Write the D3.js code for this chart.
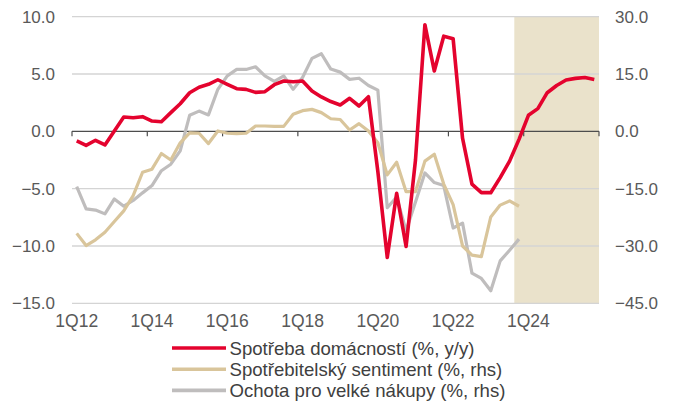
<!DOCTYPE html>
<html><head><meta charset="utf-8">
<script src="https://cdn.jsdelivr.net/npm/d3@7"></script>
<style>
body{margin:0;background:#fff;}
svg{display:block;font-family:"Liberation Sans",Arial,sans-serif;}
</style></head>
<body><svg id="c" width="673" height="401"></svg>
<script>
const years = d3.range(12, 26);
const categories = years.flatMap(y => [1,2,3,4].map(q => q + "Q" + y));
const tickLabels = ["1Q12","1Q14","1Q16","1Q18","1Q20","1Q22","1Q24"];
const shadeStart = "4Q23";
const leftTicks = [-15,-10,-5,0,5,10];
const rightTicks = [-45,-30,-15,0,15,30];

const consumption = [-0.84,-1.22,-0.78,-1.19,0.03,1.25,1.19,1.28,0.9,0.84,1.63,2.41,3.37,3.85,4.1,4.5,4.1,3.72,3.66,3.4,3.46,4.07,4.39,4.33,4.39,3.52,3.0,2.6,2.3,2.88,2.21,3.02,-3.5,-11.0,-5.4,-10.05,-2.5,9.3,5.26,8.3,8.08,-0.6,-4.6,-5.35,-5.35,-4.04,-2.6,-0.7,1.4,1.98,3.37,4.0,4.48,4.62,4.7,4.53];
const sentiment = [-26.7,-29.9,-28.4,-26.4,-23.6,-20.8,-16.8,-10.7,-9.9,-5.8,-7.5,-3.0,-0.4,-0.5,-3.2,0.1,-0.5,-0.6,-0.5,1.4,1.4,1.3,1.3,4.45,5.4,5.75,4.9,3.3,3.1,0.35,2.0,0.1,-3.0,-11.4,-8.1,-15.8,-15.8,-7.8,-6.0,-13.8,-19.2,-30.0,-32.4,-32.8,-22.4,-19.3,-18.2,-19.6];
const purchases = [-14.5,-20.3,-20.6,-21.6,-17.7,-19.6,-18.1,-16.1,-14.2,-10.3,-8.6,-5.1,4.2,5.3,4.3,11.0,14.5,16.2,16.2,16.9,14.5,13.1,14.5,11.0,14.1,19.1,20.3,16.3,15.5,13.6,13.9,12.0,10.8,-20.0,-17.2,-26.0,-18.5,-10.9,-13.4,-14.2,-25.3,-24.0,-37.1,-38.5,-41.7,-33.9,-31.1,-28.2];
const seriesNames = ["Spotřeba domácností (%, y/y)","Spotřebitelský sentiment (%, rhs)","Ochota pro velké nákupy (%, rhs)"];
const colors = ["#E4032E","#D9C59B","#BFBDBD"];

const svg = d3.select("#c");
const L = 72, R = 599, T = 16.7, B = 303.3;
const x = d3.scaleBand().domain(categories).range([L, R]).paddingInner(0).paddingOuter(0);
const yL = d3.scaleLinear().domain([-15, 10]).range([B, T]);
const yR = d3.scaleLinear().domain([-45, 30]).range([B, T]);
const cx = c => x(c) + x.bandwidth() / 2;

// shaded forecast area
svg.append("rect")
  .attr("x", x(shadeStart)).attr("y", T)
  .attr("width", R - x(shadeStart)).attr("height", B - T)
  .attr("fill", "#EAE2CB");

// gridlines
svg.append("g").selectAll("line").data(leftTicks.filter(d => d !== 0)).join("line")
  .attr("x1", L).attr("x2", R).attr("y1", d => yL(d)).attr("y2", d => yL(d))
  .attr("stroke", "#D4D4D4").attr("stroke-width", 1.3);

// left axis labels
const axL = svg.append("g").attr("transform", `translate(${L},0)`)
  .call(d3.axisLeft(yL).tickValues(leftTicks).tickFormat(d3.format(".1f")).tickSize(0).tickPadding(17));
axL.select(".domain").remove();
axL.selectAll("text").attr("font-size", 17).attr("fill", "#595959").attr("font-family", "Liberation Sans, Arial, sans-serif");

// right axis labels
const axR = svg.append("g").attr("transform", `translate(${R},0)`)
  .call(d3.axisRight(yR).tickValues(rightTicks).tickFormat(d3.format(".1f")).tickSize(0).tickPadding(16));
axR.select(".domain").remove();
axR.selectAll("text").attr("font-size", 17).attr("fill", "#595959").attr("font-family", "Liberation Sans, Arial, sans-serif");

// zero line with category-boundary ticks
svg.append("line").attr("x1", L).attr("x2", R).attr("y1", yL(0)).attr("y2", yL(0))
  .attr("stroke", "#4D4D4D").attr("stroke-width", 1.2);
const tickCats = categories.filter((c, i) => i % 8 === 0);
svg.append("g").selectAll("line").data(tickCats.map(c => x(c)).concat([R])).join("line")
  .attr("x1", d => d).attr("x2", d => d).attr("y1", yL(0)).attr("y2", yL(0) + 5)
  .attr("stroke", "#4D4D4D").attr("stroke-width", 1.2);

// x axis labels
const axX = svg.append("g").attr("transform", `translate(0,${B})`)
  .call(d3.axisBottom(x).tickValues(tickLabels).tickSize(0).tickPadding(11));
axX.select(".domain").remove();
axX.selectAll("text").attr("font-size", 17.5).attr("fill", "#595959").attr("font-family", "Liberation Sans, Arial, sans-serif");

// lines
const lineL = d3.line().x((d, i) => cx(categories[i])).y(d => yL(d));
const lineR = d3.line().x((d, i) => cx(categories[i])).y(d => yR(d));
svg.append("path").datum(purchases).attr("d", lineR).attr("fill", "none")
  .attr("stroke", colors[2]).attr("stroke-width", 3.2).attr("stroke-linejoin", "round");
svg.append("path").datum(sentiment).attr("d", lineR).attr("fill", "none")
  .attr("stroke", colors[1]).attr("stroke-width", 3.2).attr("stroke-linejoin", "round");
svg.append("path").datum(consumption).attr("d", lineL).attr("fill", "none")
  .attr("stroke", colors[0]).attr("stroke-width", 3.6).attr("stroke-linejoin", "round");

// legend
const lg = svg.append("g");
seriesNames.forEach((n, i) => {
  const yy = 348 + i * 21.2;
  lg.append("line").attr("x1", 172).attr("x2", 226).attr("y1", yy).attr("y2", yy)
    .attr("stroke", colors[i]).attr("stroke-width", 3.6);
  lg.append("text").attr("x", 229.5).attr("y", yy).attr("dy", "0.35em")
    .attr("font-size", 18.6).attr("fill", "#404040").text(n);
});
</script>
</body></html>
